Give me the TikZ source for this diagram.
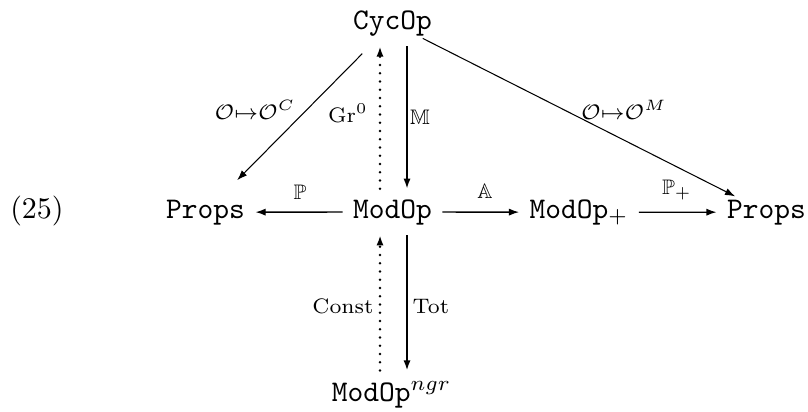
\documentclass[tikz,border=0pt]{standalone}
\usepackage{amssymb}
\usetikzlibrary{arrows.meta,calc}
\begin{document}
\begin{tikzpicture}[x=0.33333pt,y=-0.33333pt,
  obj/.style={inner sep=3.333pt, anchor=base, font=\ttfamily},
  lab/.style={inner sep=0pt},
  tipstyle/.style={-{Latex[length=3.4pt,width=2.4pt]}},
  harr/.style={tipstyle, line width=0.45pt},
  varr/.style={tipstyle, line width=0.6pt},
  darr/.style={tipstyle, line width=0.35pt},
  dotarr/.style={tipstyle, line width=0.85pt, line cap=round, dash pattern=on 0pt off 2.75pt},
]
\useasboundingbox (0,0) rectangle (808,411);

% objects
\node[obj] (cyc) at (392.5,29) {CycOp};
\node[obj] (propsL) at (205.5,218) {Props};
\node[obj] (mod) at (392.5,218) {ModOp};
\node[obj] (mp) at (579,218) {ModOp$_+$};
\node[obj] (propsR) at (766.5,218) {Props};
\node[obj] (ngr) at (391.5,401) {ModOp$^{ngr}$};
\node[inner sep=0pt, anchor=base] (eq) at (37,218) {(25)};

\coordinate (xL) at (380,0);
\coordinate (xR) at (407,0);

% diagonal arrows
\draw[darr, shorten <=14.3pt, shorten >=15pt] (cyc.center) -- (propsL.center);
\draw[darr, shorten <=11.3pt, shorten >=11.7pt] (cyc.center) -- (propsR.center);

% horizontal arrows
\draw[harr] (mod) -- (propsL);
\draw[harr] (mod) -- (mp);
\draw[harr] (mp) -- (propsR);

% vertical arrows
\draw[dotarr] (mod.north -| xL) -- (cyc.south -| xL);
\draw[varr] (cyc.south -| xR) -- (mod.north -| xR);
\draw[dotarr] (ngr.north -| xL) -- (mod.south -| xL);
\draw[varr] (mod.south -| xR) -- (ngr.north -| xR);

% labels
\node[lab] (lC) at (255,110) {$\scriptstyle\mathcal{O}\mapsto\mathcal{O}^C$};
\node[lab] (lM) at (624,110) {$\scriptstyle\mathcal{O}\mapsto\mathcal{O}^M$};
\node[lab] (lGr) at (348,113) {$\scriptstyle\mathrm{Gr}^0$};
\node[lab] (lMM) at (420,117) {$\scriptstyle\mathbb{M}$};
\node[lab] (lP) at (300,192) {$\scriptstyle\mathbb{P}$};
\node[lab] (lA) at (485,191) {$\scriptstyle\mathbb{A}$};
\node[lab] (lPp) at (677,190) {$\scriptstyle\mathbb{P}_+$};
\node[lab] (lConst) at (343,306) {$\scriptstyle\mathrm{Const}$};
\node[lab] (lTot) at (431,306) {$\scriptstyle\mathrm{Tot}$};
\end{tikzpicture}
\end{document}
